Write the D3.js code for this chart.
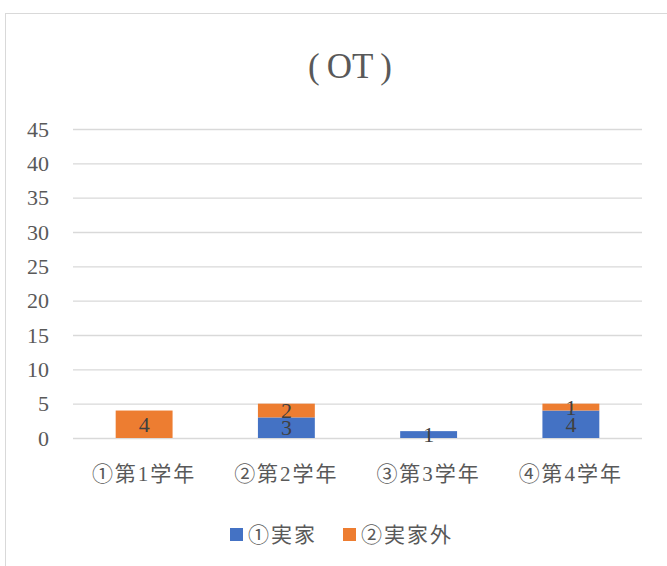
<!DOCTYPE html>
<html>
<head>
<meta charset="utf-8">
<script src="https://cdn.jsdelivr.net/npm/d3@7"></script>
<style>
  body { margin: 0; background: #fff; }
  svg text { font-family: "Liberation Serif", "Noto Sans CJK JP", serif; }
</style>
</head>
<body>
<svg id="chart" width="667" height="566"></svg>
<script>
const categories = ["①第1学年", "②第2学年", "③第3学年", "④第4学年"];
const seriesNames = ["①実家", "②実家外"];
const jikka = [0, 3, 1, 4];
const jikkaGai = [4, 2, 0, 1];
const yTicks = [0, 5, 10, 15, 20, 25, 30, 35, 40, 45];
const colors = ["#4472C4", "#ED7D31"];

const svg = d3.select("#chart");
const margin = { top: 129, left: 73, right: 25, bottom: 128 };
const width = 667 - margin.left - margin.right;
const height = 566 - margin.top - margin.bottom;

// chart frame (cut off at right/bottom like the screenshot)
svg.append("rect")
    .attr("x", 5.5).attr("y", 13.5)
    .attr("width", 700).attr("height", 600)
    .attr("fill", "#fff")
    .attr("stroke", "#d9d9d9");

// title: wide-looking parens, letters kept tight
const title = svg.append("text")
    .attr("x", 350).attr("y", 78)
    .attr("text-anchor", "middle")
    .attr("font-size", 35)
    .attr("fill", "#595959");
title.append("tspan").text("(");
title.append("tspan").attr("dx", 7).text("OT");
title.append("tspan").attr("dx", 7).text(")");

const table = categories.map((c, i) => ({ cat: c, s0: jikka[i], s1: jikkaGai[i] }));
const stack = d3.stack().keys(["s0", "s1"])(table);

const x = d3.scaleBand().domain(categories).range([0, width]).paddingInner(0.6).paddingOuter(0.3);
const y = d3.scaleLinear().domain([0, 45]).range([height, 0]);

const g = svg.append("g").attr("transform", `translate(${margin.left},${margin.top})`);

// gridlines
g.append("g")
    .call(d3.axisLeft(y).tickValues(yTicks).tickSize(-width).tickFormat(""))
    .call(a => a.select(".domain").remove())
    .call(a => a.selectAll("line").attr("stroke", "#d9d9d9").attr("stroke-width", 1.3));

// y labels
g.append("g")
    .call(d3.axisLeft(y).tickValues(yTicks).tickSize(0).tickPadding(24))
    .call(a => a.select(".domain").remove())
    .call(a => a.selectAll("text").attr("font-size", 22).attr("fill", "#595959")
        .style("font-family", "'Liberation Serif', serif"));

// bars
const layers = g.selectAll(".layer").data(stack).join("g")
    .attr("class", "layer")
    .attr("fill", (d, i) => colors[i]);

layers.selectAll("rect").data(d => d).join("rect")
    .attr("x", d => x(d.data.cat))
    .attr("y", d => y(d[1]))
    .attr("width", x.bandwidth())
    .attr("height", d => y(d[0]) - y(d[1]));

layers.selectAll("text").data(d => d.filter(v => v[1] - v[0] > 0)).join("text")
    .attr("x", d => x(d.data.cat) + x.bandwidth() / 2)
    .attr("y", d => y((d[0] + d[1]) / 2))
    .attr("dy", "0.35em")
    .attr("text-anchor", "middle")
    .attr("font-size", 22)
    .attr("fill", "#404040")
    .text(d => d[1] - d[0]);

// x axis labels
g.append("g")
    .attr("transform", `translate(0,${height})`)
    .call(d3.axisBottom(x).tickSize(0).tickPadding(28))
    .call(a => a.select(".domain").remove())
    .call(a => a.selectAll("text").attr("font-size", 21).attr("letter-spacing", 2).attr("fill", "#595959"));

// legend
const legend = svg.append("g").attr("transform", "translate(230,528)");
const legX = [0, 113];
seriesNames.forEach((name, i) => {
    legend.append("rect")
        .attr("x", legX[i]).attr("y", 0)
        .attr("width", 13).attr("height", 13)
        .attr("fill", colors[i]);
    legend.append("text")
        .attr("x", legX[i] + 18).attr("y", 7)
        .attr("dy", "0.35em")
        .attr("font-size", 21)
        .attr("letter-spacing", 2)
        .attr("fill", "#595959")
        .text(name);
});
</script>
</body>
</html>
